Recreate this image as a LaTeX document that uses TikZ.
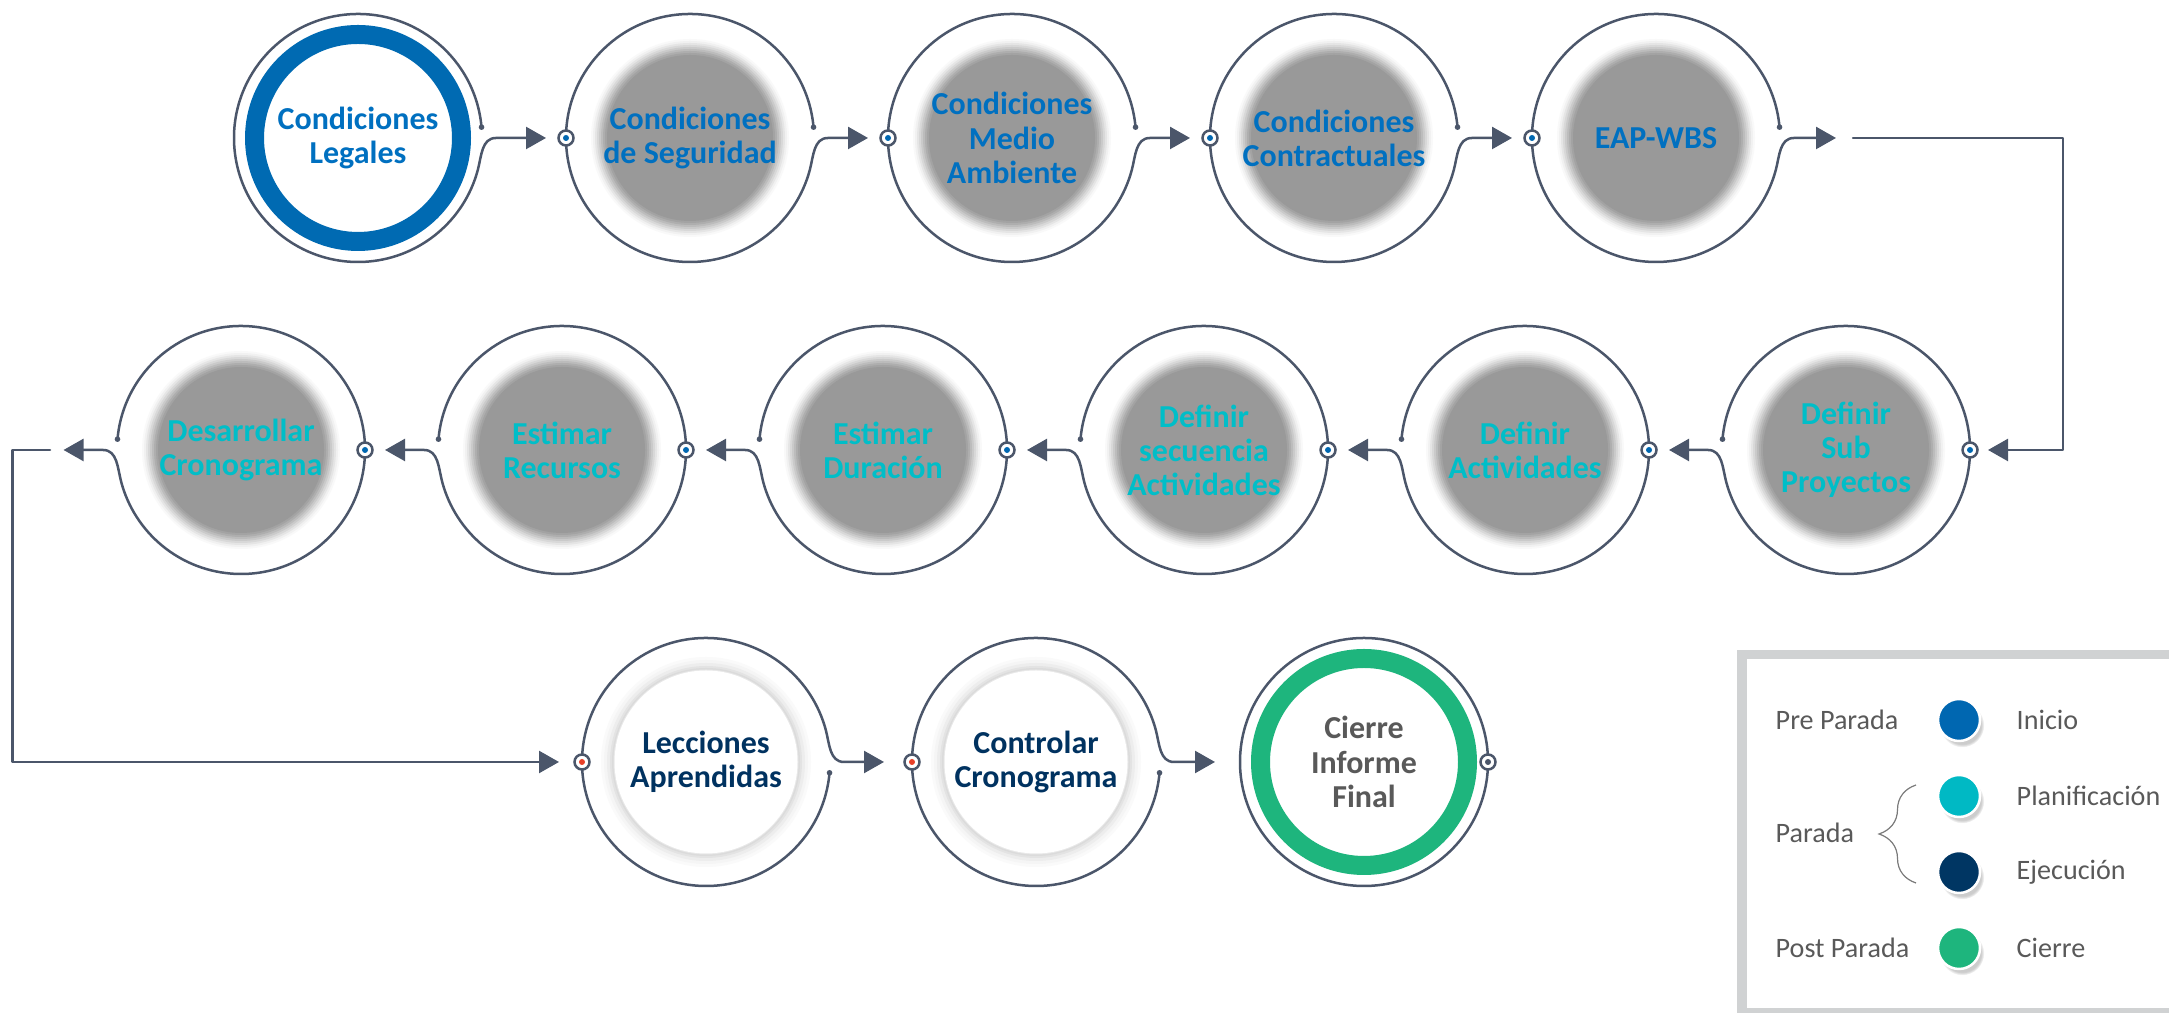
\documentclass[tikz,border=0pt]{standalone}
\usepackage{fontspec}
\setmainfont{Carlito}
\usepackage{tikz}
\usetikzlibrary{positioning,arrows.meta,shadows,decorations.pathreplacing}

\definecolor{linea}{RGB}{75,86,106}
\definecolor{anilloazul}{RGB}{0,106,178}
\definecolor{textoazul}{RGB}{0,112,192}
\definecolor{textoceleste}{RGB}{0,190,200}
\definecolor{textomarino}{RGB}{0,50,96}
\definecolor{textogris}{RGB}{89,89,89}
\definecolor{discogris}{RGB}{153,153,153}
\definecolor{bordegris}{RGB}{208,210,211}
\definecolor{azulinicio}{RGB}{0,103,177}
\definecolor{celesteplan}{RGB}{0,185,196}
\definecolor{marinoejec}{RGB}{0,54,99}
\definecolor{verdecierre}{RGB}{30,181,125}
\definecolor{rojopuerto}{RGB}{232,64,40}

\tikzset{
  etapa/.style={circle, minimum size=24.8mm, inner sep=0pt, outer sep=0pt, align=center,
                font=\bfseries\fontsize{9.1pt}{9.7pt}\selectfont},
  azul/.style={text=textoazul},
  celeste/.style={text=textoceleste},
  marino/.style={text=textomarino},
  gris/.style={text=textogris},
  % soft gray disk, built from rings that darken towards the centre
  difusa/.style={fill=white, path picture={
      \foreach \r/\p in {9.9/6, 9.7/14, 9.5/25, 9.3/38, 9.1/52, 8.9/66, 8.7/79, 8.5/90, 8.3/100}
        \fill[discogris!\p!white] (path picture bounding box.center) circle[radius=\r mm];}},
  % white disk with a light halo round it
  halo/.style={fill=white, path picture={
      \foreach \r/\p in {10.5/2, 10.2/4, 9.9/7, 9.6/11, 9.4/14, 9.25/9}
        \fill[black!\p] (path picture bounding box.center) circle[radius=\r mm];
      \fill[white] (path picture bounding box.center) circle[radius=9.15mm];}},
  anillo/.style={fill=white, path picture={\draw[line width=1.9mm, #1] (path picture bounding box.center) circle[radius=10.35mm];}},
  trazo/.style={draw=linea, line width=0.25mm, line cap=round, line join=round},
  flecha/.style={-{Triangle[length=2mm, width=2.2mm]}},
  puerto/.style={circle, draw=linea, fill=white, line width=0.25mm, minimum size=1.5mm, inner sep=0pt,
                 path picture={\fill[#1] (path picture bounding box.center) circle[radius=0.3mm];}},
  punto/.style={circle, fill=linea, minimum size=0.56mm, inner sep=0pt},
  leyenda/.style={font=\fontsize{8pt}{9.6pt}\selectfont, text=textogris, anchor=west, inner sep=0pt},
  muestra/.style={circle, draw=white, fill=#1, line width=0.25mm, minimum size=4.2mm, inner sep=0pt, outer sep=0pt,
                  circular drop shadow={shadow scale=1.05, shadow xshift=0.3mm, shadow yshift=-0.5mm, opacity=0.4}},
}

\begin{document}
\begin{tikzpicture}[x=0.1mm, y=0.1mm]
  \useasboundingbox (0,0) rectangle (2169,1013);

  % fila 1: pre parada
  \node[etapa, azul, anillo=anilloazul] (legales) at (358,875) {Condiciones\\Legales};
  \node[etapa, azul, difusa] (seguridad) [right=8.4mm of legales] {Condiciones\\de Seguridad};
  \node[etapa, azul, difusa] (medio) [right=7.4mm of seguridad] {Condiciones\\Medio\\Ambiente};
  \node[etapa, azul, difusa] (contractuales) [right=7.4mm of medio] {Condiciones\\Contractuales};
  \node[etapa, azul, difusa] (wbs) [right=7.4mm of contractuales] {EAP-WBS};

  % fila 2: planificacion, de derecha a izquierda
  \node[etapa, celeste, difusa] (subproy) at (1846,563) {Definir\\Sub\\Proyectos};
  \node[etapa, celeste, difusa] (actividades) [left=7.3mm of subproy] {Definir\\Actividades};
  \node[etapa, celeste, difusa] (secuencia) [left=7.3mm of actividades] {Definir\\secuencia\\Actividades};
  \node[etapa, celeste, difusa] (duracion) [left=7.3mm of secuencia] {Estimar\\Duración};
  \node[etapa, celeste, difusa] (recursos) [left=7.3mm of duracion] {Estimar\\Recursos};
  \node[etapa, celeste, difusa] (cronograma) [left=7.3mm of recursos] {Desarrollar\\Cronograma};

  % fila 3: ejecucion y cierre
  \node[etapa, marino, halo] (lecciones) at (706,251) {Lecciones\\Aprendidas};
  \node[etapa, marino, halo] (controlar) [right=8.2mm of lecciones] {Controlar\\Cronograma};
  \node[etapa, gris, anillo=verdecierre] (cierre) [right=8mm of controlar] {Cierre\\Informe\\Final};

  \coordinate (finWbs) at ([xshift=5.6mm]wbs.east);
  \coordinate (codoWbs) at ([xshift=7.3mm]wbs.east);
  \coordinate (finCrono) at ([xshift=-5.35mm]cronograma.west);
  \coordinate (codoCrono) at ([xshift=-6.7mm]cronograma.west);

  % contornos con salida a la derecha
  \draw[trazo, flecha] (legales.center) ++(5:124) node[punto] (d1) {} arc[start angle=5, delta angle=340, radius=124]
    to[out=75, in=180] ([xshift=1.4mm]legales.east) -- ([xshift=-2mm]seguridad.west);
  \draw[trazo, flecha] (seguridad.center) ++(5:124) node[punto] (d2) {} arc[start angle=5, delta angle=340, radius=124]
    to[out=75, in=180] ([xshift=1.4mm]seguridad.east) -- ([xshift=-2mm]medio.west);
  \draw[trazo, flecha] (medio.center) ++(5:124) node[punto] (d3) {} arc[start angle=5, delta angle=340, radius=124]
    to[out=75, in=180] ([xshift=1.4mm]medio.east) -- ([xshift=-2mm]contractuales.west);
  \draw[trazo, flecha] (contractuales.center) ++(5:124) node[punto] (d4) {} arc[start angle=5, delta angle=340, radius=124]
    to[out=75, in=180] ([xshift=1.4mm]contractuales.east) -- ([xshift=-2mm]wbs.west);
  \draw[trazo, flecha] (wbs.center) ++(5:124) node[punto] (d5) {} arc[start angle=5, delta angle=340, radius=124]
    to[out=75, in=180] ([xshift=1.4mm]wbs.east) -- (finWbs);

  % bajada a la fila 2
  \draw[trazo, flecha] (codoWbs) -| ([xshift=9.3mm]subproy.east) -- ([xshift=1.8mm]subproy.east);

  % contornos con salida a la izquierda
  \draw[trazo, flecha] (subproy.center) ++(175:124) node[punto] (d6) {} arc[start angle=175, delta angle=-340, radius=124]
    to[out=105, in=0] ([xshift=-1.4mm]subproy.west) -- ([xshift=2mm]actividades.east);
  \draw[trazo, flecha] (actividades.center) ++(175:124) node[punto] (d7) {} arc[start angle=175, delta angle=-340, radius=124]
    to[out=105, in=0] ([xshift=-1.4mm]actividades.west) -- ([xshift=2mm]secuencia.east);
  \draw[trazo, flecha] (secuencia.center) ++(175:124) node[punto] (d8) {} arc[start angle=175, delta angle=-340, radius=124]
    to[out=105, in=0] ([xshift=-1.4mm]secuencia.west) -- ([xshift=2mm]duracion.east);
  \draw[trazo, flecha] (duracion.center) ++(175:124) node[punto] (d9) {} arc[start angle=175, delta angle=-340, radius=124]
    to[out=105, in=0] ([xshift=-1.4mm]duracion.west) -- ([xshift=2mm]recursos.east);
  \draw[trazo, flecha] (recursos.center) ++(175:124) node[punto] (d10) {} arc[start angle=175, delta angle=-340, radius=124]
    to[out=105, in=0] ([xshift=-1.4mm]recursos.west) -- ([xshift=2mm]cronograma.east);
  \draw[trazo, flecha] (cronograma.center) ++(175:124) node[punto] (d11) {} arc[start angle=175, delta angle=-340, radius=124]
    to[out=105, in=0] ([xshift=-1.4mm]cronograma.west) -- (finCrono);

  % bajada a la fila 3
  \draw[trazo, flecha] (codoCrono) -- ([xshift=-10.45mm]cronograma.west) |- ([xshift=-2.3mm]lecciones.west);

  % fila 3, salida por arriba
  \draw[trazo, flecha] (lecciones.center) ++(-5:124) node[punto] (d12) {} arc[start angle=-5, delta angle=-340, radius=124]
    to[out=-75, in=180] ([xshift=1.4mm]lecciones.east) -- ([xshift=-2.8mm]controlar.west);
  \draw[trazo, flecha] (controlar.center) ++(-5:124) node[punto] (d13) {} arc[start angle=-5, delta angle=-340, radius=124]
    to[out=-75, in=180] ([xshift=1.4mm]controlar.east) -- ([xshift=-2.5mm]cierre.west);
  \draw[trazo] (cierre) circle[radius=124];

  % puertos de entrada
  \node[puerto=azulinicio] (pSeguridad) at (seguridad.west) {};
  \node[puerto=azulinicio] (pMedio) at (medio.west) {};
  \node[puerto=azulinicio] (pContractuales) at (contractuales.west) {};
  \node[puerto=azulinicio] (pWbs) at (wbs.west) {};
  \node[puerto=azulinicio] (pSubproy) at (subproy.east) {};
  \node[puerto=azulinicio] (pActividades) at (actividades.east) {};
  \node[puerto=azulinicio] (pSecuencia) at (secuencia.east) {};
  \node[puerto=azulinicio] (pDuracion) at (duracion.east) {};
  \node[puerto=azulinicio] (pRecursos) at (recursos.east) {};
  \node[puerto=azulinicio] (pCronograma) at (cronograma.east) {};
  \node[puerto=rojopuerto] (pLecciones) at (lecciones.west) {};
  \node[puerto=rojopuerto] (pControlar) at (controlar.west) {};
  \node[puerto=linea] (pCierre) at (cierre.east) {};

  % leyenda
  \draw[bordegris, line width=0.94mm] (1742,358.3) rectangle (2190,0.5);
  \node[muestra=azulinicio] (mInicio) at (1959,293) {};
  \node[muestra=celesteplan] (mPlan) [below=3.4mm of mInicio] {};
  \node[muestra=marinoejec] (mEjec) [below=3.4mm of mPlan] {};
  \node[muestra=verdecierre] (mCierre) [below=3.4mm of mEjec] {};
  \node[leyenda, right=3.6mm of mInicio] (tInicio) {Inicio};
  \node[leyenda, right=3.6mm of mPlan] (tPlan) {Planificación};
  \node[leyenda, right=3.6mm of mEjec] (tEjec) {Ejecución};
  \node[leyenda, right=3.6mm of mCierre] (tCierre) {Cierre};
  \node[leyenda] (tPre) at (1775,293) {Pre Parada};
  \node[leyenda] (tParada) at (1775,180) {Parada};
  \node[leyenda] (tPost) at (1775,65) {Post Parada};
  \draw[decorate, decoration={brace, amplitude=3.7mm}, draw=textogris!80, line width=0.12mm]
    ([xshift=-2.2mm, yshift=-1.1mm]mEjec.west) -- ([xshift=-2.2mm, yshift=1.1mm]mPlan.west);
\end{tikzpicture}
\end{document}
